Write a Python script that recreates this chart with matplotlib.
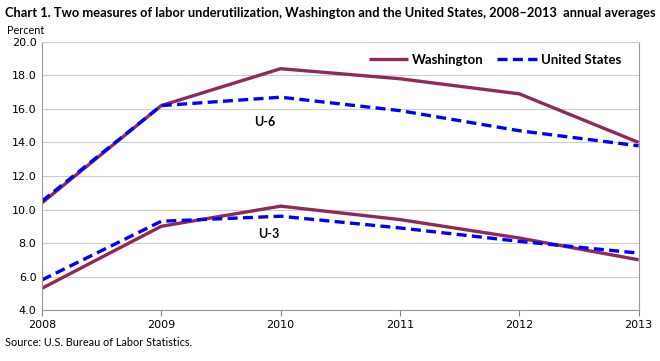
import matplotlib
matplotlib.use("Agg")
import matplotlib.pyplot as plt

years = [2008, 2009, 2010, 2011, 2012, 2013]
wa_u6 = [10.4, 16.2, 18.4, 17.8, 16.9, 14.0]
us_u6 = [10.5, 16.2, 16.7, 15.9, 14.7, 13.8]
wa_u3 = [5.3, 9.0, 10.2, 9.4, 8.3, 7.0]
us_u3 = [5.8, 9.3, 9.6, 8.9, 8.1, 7.4]
yticks = [4.0, 6.0, 8.0, 10.0, 12.0, 14.0, 16.0, 18.0, 20.0]

wa_color = "#8e2a5a"
us_color = "#0000ff"
label_font = ["Lato", "DejaVu Sans"]

fig = plt.figure(figsize=(6.6, 3.61), dpi=100)
ax = fig.add_axes([0.0636, 0.141, 0.904, 0.743])

ax.plot(years, wa_u6, color=wa_color, lw=2.4, label="Washington", solid_capstyle="butt")
ax.plot(years, us_u6, color=us_color, lw=2.4, ls=(0, (3, 1.6)), label="United States")
ax.plot(years, wa_u3, color=wa_color, lw=2.4, solid_capstyle="butt")
ax.plot(years, us_u3, color=us_color, lw=2.4, ls=(0, (3, 1.6)))

ax.set_xlim(2008, 2013)
ax.set_ylim(4, 20)
ax.set_xticks(years)
ax.set_yticks(yticks)
ax.set_yticklabels([f"{v:.1f}" for v in yticks])
ax.tick_params(axis="both", labelsize=8, colors="black", length=4, width=0.8)
ax.tick_params(axis="y", length=0, pad=4)
ax.tick_params(axis="x", direction="out", color="#888888", pad=3)
ax.grid(axis="y", color="#c8d0c8", lw=0.8)
ax.set_axisbelow(True)
for s in ax.spines.values():
    s.set_color("#999999")
    s.set_linewidth(0.8)
ax.spines["top"].set_color("#c8d0c8")

ax.text(2009.87, 15.2, "U-6", fontsize=9, fontweight="bold", ha="center", va="center", family=label_font)
ax.text(2009.9, 8.55, "U-3", fontsize=9, fontweight="bold", ha="center", va="center", family=label_font)

leg = ax.legend(loc="upper right", ncol=2, frameon=False,
                prop={"family": label_font, "weight": "bold", "size": 9.5},
                handlelength=3, columnspacing=1.0, handletextpad=0.3,
                bbox_to_anchor=(0.99, 1.0))

fig.text(0.008, 0.965, "Chart 1. Two measures of labor underutilization, Washington and the United States, 2008\u20132013  annual averages",
         fontsize=9.3, fontweight="bold", family=label_font, va="center")
fig.text(0.01, 0.915, "Percent", fontsize=7.8, family=label_font, va="center")
fig.text(0.008, 0.05, "Source: U.S. Bureau of Labor Statistics.", fontsize=7.8, family=label_font, va="center")

fig.savefig("out.png", dpi=100)
